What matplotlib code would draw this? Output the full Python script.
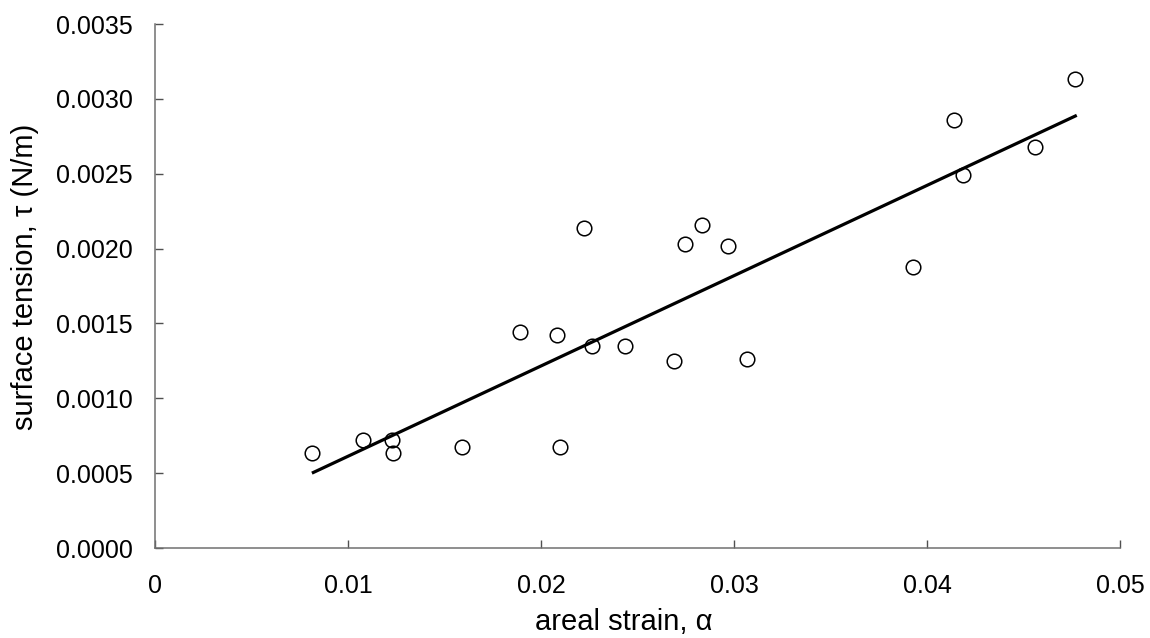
import matplotlib
matplotlib.use("Agg")
import matplotlib.pyplot as plt
import numpy as np

plt.rcParams['font.family'] = ['Liberation Sans', 'DejaVu Sans']

# data (areal strain, surface tension N/m)
strain = [0.00813, 0.01078, 0.01228, 0.01233, 0.01591, 0.01891, 0.02083, 0.02098,
          0.02223, 0.02264, 0.02435, 0.02689, 0.02746, 0.02834, 0.02969, 0.03067,
          0.03927, 0.04140, 0.04187, 0.04560, 0.04767]
tension = [0.000633, 0.000720, 0.000720, 0.000633, 0.000673, 0.001440, 0.001420, 0.000673,
           0.002140, 0.001347, 0.001347, 0.001250, 0.002030, 0.002160, 0.002020, 0.001260,
           0.001880, 0.002860, 0.002490, 0.002680, 0.003130]
fit_x = [0.00813, 0.04776]
fit_y = [0.000500, 0.002890]

x_ticks = [0, 0.01, 0.02, 0.03, 0.04, 0.05]
x_ticklabels = ['0', '0.01', '0.02', '0.03', '0.04', '0.05']
y_ticks = [0.0, 0.0005, 0.0010, 0.0015, 0.0020, 0.0025, 0.0030, 0.0035]
y_ticklabels = ['%.4f' % v for v in y_ticks]

fig = plt.figure(figsize=(11.5, 6.38), dpi=100)
ax = fig.add_axes([155/1150, 90/638, 965/1150, 524/638])

ax.plot(fit_x, fit_y, color='black', lw=2.3, solid_capstyle='butt', zorder=2)
ax.plot(strain, tension, linestyle='none', marker='o', markersize=10.5,
        markerfacecolor='none', markeredgecolor='black', markeredgewidth=1.1, zorder=3)

ax.set_xlim(0, 0.05)
ax.set_ylim(0, 0.0035)
ax.set_xticks(x_ticks)
ax.set_xticklabels(x_ticklabels)
ax.set_yticks(y_ticks)
ax.set_yticklabels(y_ticklabels)

for s in ['top', 'right']:
    ax.spines[s].set_visible(False)
for s in ['left', 'bottom']:
    ax.spines[s].set_color('#707070')
    ax.spines[s].set_linewidth(1.1)

ax.tick_params(axis='both', direction='in', length=6, width=1, color='#505050',
               labelsize=18, labelcolor='black')
ax.tick_params(axis='x', pad=19)
ax.tick_params(axis='y', pad=16)

ax.set_xlabel('areal strain, α', fontsize=21)
ax.set_ylabel('surface tension, τ (N/m)', fontsize=21)
ax.xaxis.set_label_coords((624 - 155) / 965, -(622 - 548) / 524)
ax.yaxis.set_label_coords(-(155 - 25) / 965, (548 - 277) / 524)
ax.xaxis.label.set_verticalalignment('center')
ax.yaxis.label.set_verticalalignment('center')

fig.savefig('out.png', dpi=100)
